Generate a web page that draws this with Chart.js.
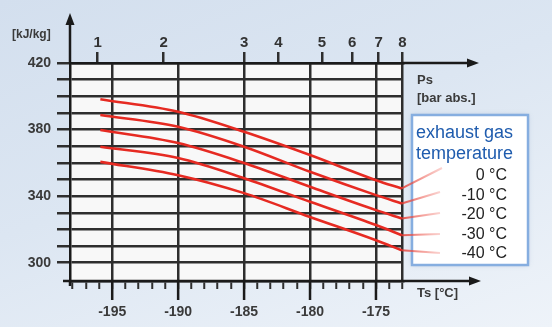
<!DOCTYPE html>
<html><head><meta charset="utf-8">
<script src="https://cdn.jsdelivr.net/npm/chart.js@4/dist/chart.umd.min.js"></script>
<style>
html,body{margin:0;padding:0;}
body{width:552px;height:327px;overflow:hidden;background:linear-gradient(160deg,#d3dfee 0%,#dce6f2 45%,#eef3f9 100%);font-family:'Liberation Sans',Arial,sans-serif;}
#wrap{position:relative;width:552px;height:327px;}
#c{position:absolute;left:0;top:0;}
.t{position:absolute;white-space:nowrap;color:#3a3a3a;font-weight:bold;line-height:1;}
.lg{position:absolute;white-space:nowrap;line-height:1;}
</style></head>
<body>
<div id="wrap">
<canvas id="c" width="552" height="327"></canvas>
<div class="t" style="left:12px;top:28px;font-size:12px;">[kJ/kg]</div>
<div class="t" style="left:417px;top:73px;font-size:13px;">Ps</div>
<div class="t" style="left:417px;top:91px;font-size:13px;">[bar abs.]</div>
<div class="t" style="left:417px;top:286px;font-size:13px;">Ts [°C]</div>
<div id="legend"></div>
</div>
<script>
// ---- data ----
const temperatureTicks = [-195, -190, -185, -180, -175];
const pressureLabels = ['1', '2', '3', '4', '5', '6', '7', '8'];
const pressurePositions = [-196.1, -191.1, -185.0, -182.4, -179.1, -176.8, -174.8, -173.0];
const enthalpyTicks = [300, 310, 320, 330, 340, 350, 360, 370, 380, 390, 400, 410, 420];
const enthalpyLabels = [300, 340, 380, 420];
const curveTemps = [-195.9, -190, -185, -180, -175, -173.05];
const h0 = [398.2, 390.7, 378.7, 364.7, 349.6, 344.6];
const hm10 = [388.7, 381.7, 369.7, 354.6, 340.6, 335.6];
const hm20 = [379.7, 371.9, 359.9, 345.6, 331.6, 326.6];
const hm30 = [369.7, 362.9, 350.8, 336.6, 322.6, 316.5];
const hm40 = [360.6, 352.6, 341.8, 327.5, 313.5, 307.5];
const seriesLabels = ['0 °C', '-10 °C', '-20 °C', '-30 °C', '-40 °C'];
const legendTitle = ['exhaust gas', 'temperature'];

const seriesValues = [h0, hm10, hm20, hm30, hm40];

// legend html text
const lg = document.getElementById('legend');
legendTitle.forEach((s, i) => {
  const d = document.createElement('div');
  d.className = 'lg';
  d.textContent = s;
  d.style.cssText = 'left:416px;top:' + (123 + i * 21) + 'px;font-size:18px;color:#1f5cae;';
  lg.appendChild(d);
});
seriesLabels.forEach((s, i) => {
  const d = document.createElement('div');
  d.className = 'lg';
  d.textContent = s;
  d.style.cssText = 'right:' + (552 - 507) + 'px;top:' + (167 + i * 19.5) + 'px;font-size:16px;color:#222;text-align:right;';
  lg.appendChild(d);
});

const DARK = '#2e2e2e';
const tickFont = {family: "'Liberation Sans', Arial, sans-serif", size: 14, weight: 'bold'};

const leaderEnds = [[442, 168], [440, 192], [440, 213], [440, 234], [440, 253]];

function arrow(ctx, x, y, dir) {
  ctx.beginPath();
  if (dir === 'up') { ctx.moveTo(x, y); ctx.lineTo(x - 4.5, y + 12); ctx.lineTo(x + 4.5, y + 12); }
  else { ctx.moveTo(x, y); ctx.lineTo(x - 12, y - 4.5); ctx.lineTo(x - 12, y + 4.5); }
  ctx.closePath(); ctx.fill();
}

const decor = {
  id: 'decor',
  beforeDraw(chart) {
    const {ctx, chartArea: a} = chart;
    ctx.save();
    ctx.fillStyle = '#f8f8f8';
    ctx.fillRect(a.left, a.top, a.right - a.left, a.bottom - a.top);
    ctx.restore();
  },
  afterDraw(chart) {
    const {ctx, chartArea: a, scales} = chart;
    ctx.save();
    ctx.strokeStyle = '#1a1a1a'; ctx.fillStyle = '#1a1a1a'; ctx.lineWidth = 2.5;
    // y axis extension + arrow
    ctx.beginPath(); ctx.moveTo(a.left, a.top); ctx.lineTo(a.left, 24); ctx.stroke();
    ctx.beginPath(); ctx.moveTo(a.left, a.bottom); ctx.lineTo(a.left, a.bottom + 5); ctx.stroke();
    arrow(ctx, a.left, 13, 'up');
    // top axis extension
    ctx.beginPath(); ctx.moveTo(a.right, a.top); ctx.lineTo(470, a.top); ctx.stroke();
    arrow(ctx, 479, a.top, 'right');
    // bottom axis extension
    ctx.beginPath(); ctx.moveTo(a.left - 7, a.bottom); ctx.lineTo(472, a.bottom); ctx.stroke();
    arrow(ctx, 481, a.bottom, 'right');
    // major tick extension below bottom axis
    temperatureTicks.forEach(v => {
      const x = scales.x.getPixelForValue(v);
      ctx.beginPath(); ctx.moveTo(x, a.bottom); ctx.lineTo(x, a.bottom + 19); ctx.stroke();
    });
    // legend box
    ctx.shadowColor = 'rgba(120,150,190,0.5)'; ctx.shadowBlur = 4;
    ctx.fillStyle = '#ffffff';
    ctx.fillRect(412, 115, 116, 150);
    ctx.shadowBlur = 0;
    ctx.strokeStyle = '#86aee0'; ctx.lineWidth = 2.5;
    ctx.strokeRect(412, 115, 116, 150);
    // leader lines
    chart.data.datasets.forEach((ds, i) => {
      const meta = chart.getDatasetMeta(i);
      const p = meta.data[meta.data.length - 1];
      const [ex, ey] = leaderEnds[i];
      const g = ctx.createLinearGradient(p.x, p.y, ex, ey);
      g.addColorStop(0, 'rgba(232,60,50,0.85)');
      g.addColorStop(1, 'rgba(240,110,100,0.3)');
      ctx.strokeStyle = g; ctx.lineWidth = 2;
      ctx.beginPath(); ctx.moveTo(p.x, p.y); ctx.lineTo(ex, ey); ctx.stroke();
    });
    ctx.restore();
  }
};

new Chart(document.getElementById('c'), {
  type: 'line',
  data: {
    datasets: seriesValues.map((vals, i) => ({
      label: seriesLabels[i],
      data: curveTemps.map((t, j) => ({x: t, y: vals[j]})),
      borderColor: '#e62a22',
      borderWidth: 2.6,
      pointRadius: 0,
      cubicInterpolationMode: 'monotone',
      fill: false,
      xAxisID: 'x', yAxisID: 'y'
    }))
  },
  options: {
    responsive: false,
    animation: false,
    events: [],
    layout: {padding: {left: 0, top: 0, right: 149, bottom: 0}},
    plugins: {legend: {display: false}, tooltip: {enabled: false}},
    scales: {
      x: {
        type: 'linear', position: 'bottom', min: -198.2, max: -172.95,
        afterBuildTicks(s) { const t = []; for (let v = -198; v <= -173; v++) t.push({value: v}); s.ticks = t; },
        afterFit(s) { s.height = 46; },
        ticks: {
          autoSkip: false, maxRotation: 0, padding: 15, color: '#3a3a3a', font: tickFont,
          callback(v) { return temperatureTicks.includes(v) ? String(v) : ''; }
        },
        grid: {
          color(ctx) { const v = ctx.tick && ctx.tick.value; return (temperatureTicks.includes(v) || v === -173) ? DARK : 'rgba(0,0,0,0)'; },
          lineWidth: 2.5, tickColor: DARK, tickWidth: 2, tickLength: 8
        },
        border: {display: true, color: '#1a1a1a', width: 2.5}
      },
      x2: {
        type: 'linear', position: 'top', min: -198.2, max: -172.95,
        afterBuildTicks(s) { s.ticks = pressurePositions.map(v => ({value: v})); },
        afterFit(s) { s.height = 63; },
        ticks: {
          autoSkip: false, maxRotation: 0, padding: 0, color: '#333', font: {family: "'Liberation Sans', Arial, sans-serif", size: 15, weight: 'bold'},
          callback(v, i) { return pressureLabels[i]; }
        },
        grid: {drawOnChartArea: false, color: DARK, lineWidth: 2.5, tickLength: 11},
        border: {display: true, color: '#1a1a1a', width: 2.5}
      },
      y: {
        type: 'linear', position: 'left', min: 289, max: 420,
        afterBuildTicks(s) { s.ticks = enthalpyTicks.map(v => ({value: v})); },
        afterFit(s) { s.width = 70; },
        ticks: {
          autoSkip: false, padding: 6, color: '#3a3a3a', font: tickFont,
          callback(v) { return enthalpyLabels.includes(v) ? String(v) : ''; }
        },
        grid: {color: DARK, lineWidth: 2.5, tickLength: 13},
        border: {display: true, color: '#1a1a1a', width: 2.5}
      }
    }
  },
  plugins: [decor]
});
</script>
</body></html>
